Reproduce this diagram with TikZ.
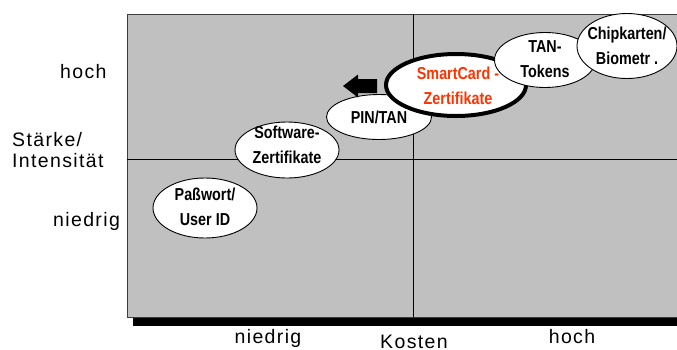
\documentclass[tikz,border=0pt]{standalone}
\usepackage{fontspec}
\setmainfont{Liberation Sans}
\newfontfamily\axisfont{Liberation Sans}[LetterSpace=7]
\newfontfamily\boxfont{Liberation Sans}[FakeStretch=0.83]
\usetikzlibrary{shapes.geometric}
\definecolor{panel}{RGB}{192,192,192}
\definecolor{frameline}{RGB}{60,60,60}
\definecolor{hilite}{RGB}{255,51,0}
\tikzset{
  axislabel/.style={font=\axisfont\fontsize{19.5}{23}\selectfont, inner sep=0pt},
  method/.style={ellipse, draw=black, line width=0.9pt, fill=white, inner sep=0pt},
  methodtext/.style={font=\boxfont\bfseries\fontsize{17.3}{24.5}\selectfont, align=center, inner sep=0pt},
  chosen/.style={method, line width=4pt}
}
\begin{document}
\begin{tikzpicture}[x=1pt,y=-1pt]
\useasboundingbox (0,0) rectangle (677,349);
\clip (0,0) rectangle (677,349);
% shadow under the matrix and the matrix itself
\fill[black] (133,317) rectangle (690,325.5);
\draw[frameline, fill=panel, line width=0.8pt] (127,14) rectangle (690,317);
\draw[black, line width=0.8pt] (413,14) -- (413,317);
\draw[black, line width=0.8pt] (127,159) -- (690,159);

% vertical axis labels
\node[axislabel, anchor=base west] (yhi) at (60,78) {hoch};
\node[axislabel, anchor=base west] (ytitle1) at (12,146) {Stärke/};
\node[axislabel, anchor=base west] (ytitle2) at (12,167) {Intensität};
\node[axislabel, anchor=base west] (ylo) at (53,226) {niedrig};

% horizontal axis labels
\node[axislabel, anchor=base] (xlo) at (268,343) {niedrig};
\node[axislabel, anchor=base] (xtitle) at (414,348.5) {Kosten};
\node[axislabel, anchor=base] (xhi) at (572,343) {hoch};

% authentication methods
\node[method, minimum width=104pt, minimum height=60pt] (pw) at (205,208) {};
\node[methodtext] (pwt) at (205,207) {Paßwort/\\User ID};

\node[method, minimum width=104pt, minimum height=56pt] (sw) at (287,150) {};
\node[methodtext] (swt) at (287,145) {Software-\\Zertifikate};

\node[method, minimum width=105pt, minimum height=45pt] (pin) at (379,117) {};
\node[methodtext] (pint) at (379,117) {PIN/TAN};

\node[chosen, minimum width=140pt, minimum height=62pt] (sc) at (456,85) {};
\node[methodtext, text=hilite] (sct) at (458,86) {SmartCard -\\Zertifikate};

\node[method, minimum width=101pt, minimum height=55pt] (tan) at (545,60) {};
\node[methodtext] (tant) at (545,59) {TAN-\\Tokens};

\node[method, minimum width=100pt, minimum height=65pt] (chip) at (627,46) {};
\node[methodtext] (chipt) at (627,46) {Chipkarten/\\Biometr .};

% block arrow pointing to lower cost
\fill[black] (343,86) -- (358,74.5) -- (358,79) -- (377,79) -- (377,93) -- (358,93) -- (358,97.5) -- cycle;
\end{tikzpicture}
\end{document}
